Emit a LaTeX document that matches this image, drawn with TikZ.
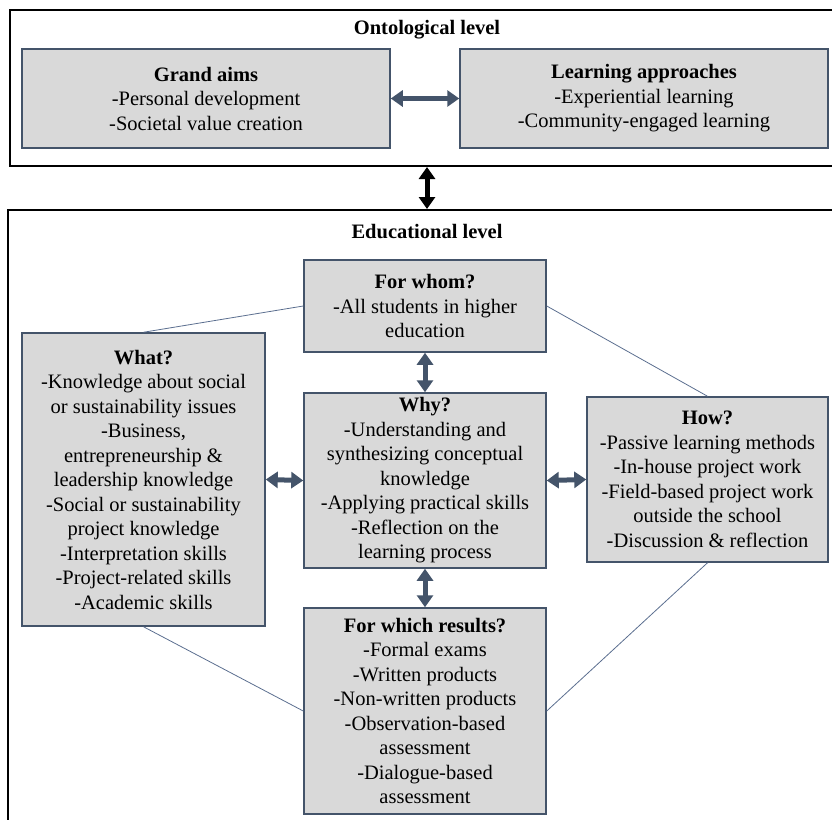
\documentclass[tikz,border=0pt]{standalone}
\usepackage{fontspec}
\setmainfont{LiberationSerif}[Extension=.ttf, UprightFont=*-Regular, BoldFont=*-Bold, ItalicFont=*-Italic, BoldItalicFont=*-BoldItalic]
\usetikzlibrary{arrows.meta}
\definecolor{boxline}{HTML}{44546A}
\definecolor{boxfill}{HTML}{D9D9D9}
\definecolor{conn}{HTML}{5B6E8F}
\begin{document}
\begin{tikzpicture}[x=1pt,y=-1pt,
  every node/.style={font=\fontsize{20.5}{24.5}\selectfont},
  box/.style={draw=boxline, fill=boxfill, line width=1.5pt, align=center, inner sep=0pt},
  frame/.style={draw=black, line width=2pt, inner sep=0pt},
  title/.style={font=\fontsize{20.5}{24.5}\selectfont\bfseries},
  dbl/.style={draw=boxline, line width=5pt, {Triangle[width=16pt,length=12pt]}-{Triangle[width=16pt,length=12pt]}},
  blk/.style={draw=black, line width=5pt, {Triangle[width=16pt,length=12pt]}-{Triangle[width=16pt,length=12pt]}},
  link/.style={draw=conn, line width=0.8pt}]
\useasboundingbox (0,0) rectangle (832,819);
% frames
\node[frame, minimum width=824pt, minimum height=156pt] (onto) at (422,88) {};
\node[frame, minimum width=826pt, minimum height=620pt] (edu) at (421,520) {};
\node[title] (otitle) at (427,30) {Ontological level};
\node[title] (etitle) at (427,232) {Educational level};
% ontological boxes
\node[box, minimum width=368pt, minimum height=99pt] (grand) at (206,98.5)
  {\textbf{Grand aims}\\-Personal development\\-Societal value creation};
\node[box, minimum width=368pt, minimum height=99pt] (learn) at (644,98.5)
  {\textbf{Learning approaches}\\-Experiential learning\\-Community-engaged learning};
% educational boxes
\node[box, minimum width=242pt, minimum height=92pt] (whom) at (425,306)
  {\textbf{For whom?}\\-All students in higher\\education};
\node[box, minimum width=243pt, minimum height=293pt] (what) at (143.5,479.5)
  {\textbf{What?}\\-Knowledge about social\\or sustainability issues\\-Business,\\entrepreneurship \&\\leadership knowledge\\-Social or sustainability\\project knowledge\\-Interpretation skills\\-Project-related skills\\-Academic skills};
\node[box, minimum width=242pt, minimum height=175pt] (why) at (425,480.5)
  {\textbf{Why?}\\-Understanding and\\synthesizing conceptual\\knowledge\\-Applying practical skills\\-Reflection on the\\learning process};
\node[box, minimum width=241pt, minimum height=165pt] (how) at (707.5,479.5)
  {\textbf{How?}\\-Passive learning methods\\-In-house project work\\-Field-based project work\\outside the school\\-Discussion \& reflection};
\node[box, minimum width=242pt, minimum height=206pt] (res) at (425,711)
  {\textbf{For which results?}\\-Formal exams\\-Written products\\-Non-written products\\-Observation-based\\assessment\\-Dialogue-based\\assessment};
% connectors
\draw[link] (whom.west) -- (what.north);
\draw[link] (whom.east) -- (how.north);
\draw[link] (how.south) -- (res.east);
\draw[link] (what.south) -- (res.west);
% arrows
\draw[dbl] (grand.east) -- (learn.west);
\draw[dbl] (whom.south) -- (why.north);
\draw[dbl] (why.south) -- (res.north);
\draw[dbl] (what.east) -- (why.west);
\draw[dbl] (why.east) -- (how.west);
\draw[blk] (otitle |- onto.south) -- (etitle |- edu.north);
\end{tikzpicture}
\end{document}
